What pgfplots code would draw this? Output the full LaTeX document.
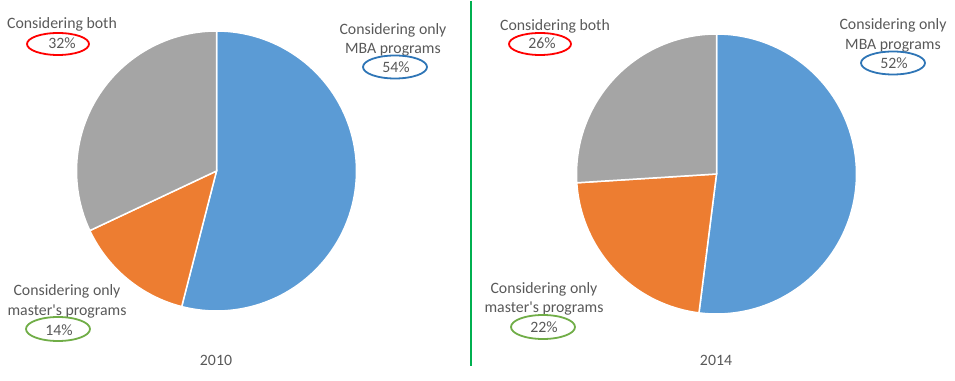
\documentclass[border=0pt]{standalone}
\usepackage{pgfplots}
\pgfplotsset{compat=1.18}
\usepackage{fontspec}
\setmainfont{Carlito}
\definecolor{pblue}{HTML}{5B9BD5}
\definecolor{porange}{HTML}{ED7D31}
\definecolor{pgray}{HTML}{A5A5A5}
\definecolor{ered}{HTML}{FF0000}
\definecolor{eblue}{HTML}{2E75B6}
\definecolor{egreen}{HTML}{70AD47}
\definecolor{sepgreen}{HTML}{00B050}
\definecolor{txt}{HTML}{595959}
\begin{document}
\begin{tikzpicture}
% shares (percent): MBA only, master's only, both
\def\mbaA{54}\def\msA{14}\def\bothA{32}
\def\mbaB{52}\def\msB{22}\def\bothB{26}
\pgfmathsetmacro{\aAone}{90-3.6*\mbaA}
\pgfmathsetmacro{\aAtwo}{90-3.6*(\mbaA+\msA)}
\pgfmathsetmacro{\aBone}{90-3.6*\mbaB}
\pgfmathsetmacro{\aBtwo}{90-3.6*(\mbaB+\msB)}
\begin{axis}[width=955pt,height=379pt,scale only axis,
  xmin=0,xmax=955,ymin=0,ymax=379,hide axis,clip=false,
  every axis plot/.append style={draw=white,line width=1.5pt,no markers}]
\path (0,0) rectangle (955,379);
% 2010 pie
\addplot[fill=pblue,domain=\aAone:90,samples=90] ({216.5+140*cos(x)},{209+140*sin(x)}) -- (216.5,209) -- cycle;
\addplot[fill=porange,domain=\aAtwo:\aAone,samples=40] ({216.5+140*cos(x)},{209+140*sin(x)}) -- (216.5,209) -- cycle;
\addplot[fill=pgray,domain=-270:\aAtwo,samples=60] ({216.5+140*cos(x)},{209+140*sin(x)}) -- (216.5,209) -- cycle;
% 2014 pie
\addplot[fill=pblue,domain=\aBone:90,samples=90] ({716.5+140*cos(x)},{206+140*sin(x)}) -- (716.5,206) -- cycle;
\addplot[fill=porange,domain=\aBtwo:\aBone,samples=40] ({716.5+140*cos(x)},{206+140*sin(x)}) -- (716.5,206) -- cycle;
\addplot[fill=pgray,domain=-270:\aBtwo,samples=60] ({716.5+140*cos(x)},{206+140*sin(x)}) -- (716.5,206) -- cycle;
% separator
\draw[sepgreen,line width=2pt] (471,379) -- (471,14);
\begin{scope}[every node/.style={text=txt,font=\fontsize{15.8}{19}\selectfont,inner sep=0pt,anchor=base}]
% labels 2010
\node at (62,351) {Considering both};
\node at (62,331) {\bothA\%};
\node at (393,345) {Considering only};
\node at (393,326) {MBA programs};
\node at (396,307) {\mbaA\%};
\node at (67,84) {Considering only};
\node at (67,64) {master\textquotesingle s programs};
\node at (59,45) {\msA\%};
\node at (216,15) {2010};
% labels 2014
\node at (555,349) {Considering both};
\node at (542,331) {\bothB\%};
\node at (893,350) {Considering only};
\node at (893,330) {MBA programs};
\node at (894,311) {\mbaB\%};
\node at (544,86) {Considering only};
\node at (544,67) {master\textquotesingle s programs};
\node at (544,47) {\msB\%};
\node at (716,15) {2014};
\end{scope}
\draw[ered,line width=1.8pt] (58,336) ellipse [x radius=31,y radius=11];
\draw[eblue,line width=1.8pt] (395,313) ellipse [x radius=32,y radius=11.5];
\draw[egreen,line width=1.8pt] (58,51) ellipse [x radius=32,y radius=12];
\draw[ered,line width=1.8pt] (540,336) ellipse [x radius=31,y radius=11];
\draw[eblue,line width=1.8pt] (893,317) ellipse [x radius=32,y radius=11.5];
\draw[egreen,line width=1.8pt] (543,53) ellipse [x radius=32,y radius=12];
\end{axis}
\end{tikzpicture}
\end{document}
